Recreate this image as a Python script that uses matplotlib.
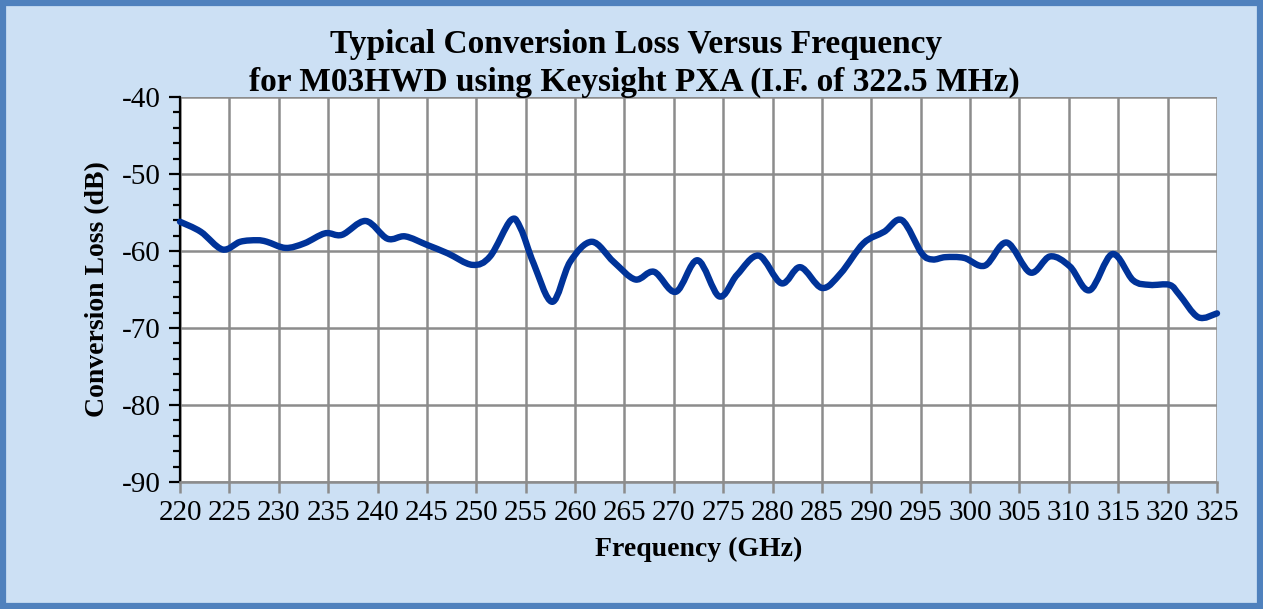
import matplotlib
matplotlib.use("Agg")
import matplotlib.pyplot as plt
from matplotlib.patches import Rectangle, PathPatch
from matplotlib.path import Path
from matplotlib.ticker import MultipleLocator

freq_ghz = [220.0, 222.1, 224.3, 226.1, 227.8, 228.8, 230.7, 232.6, 234.7, 236.4,
            238.8, 241.0, 242.8, 245.0, 247.1, 249.6, 251.4, 253.5, 254.5, 255.8,
            257.7, 259.5, 261.7, 263.9, 266.1, 268.0, 270.2, 272.4, 274.6, 276.4,
            278.6, 280.9, 282.8, 285.0, 286.9, 289.2, 291.3, 293.1, 295.1, 296.2,
            297.5, 299.4, 301.5, 303.7, 306.1, 308.1, 310.1, 312.1, 314.4, 316.5,
            318.2, 320.2, 321.2, 323.1, 325.0]
loss_db = [-56.2, -57.5, -59.8, -58.8, -58.6, -58.8, -59.6, -59.0, -57.7, -57.9,
           -56.1, -58.4, -58.1, -59.2, -60.3, -61.8, -60.7, -56.0, -57.1, -61.6,
           -66.6, -61.4, -58.8, -61.4, -63.7, -62.7, -65.3, -61.2, -65.9, -63.1,
           -60.6, -64.2, -62.1, -64.8, -62.9, -59.0, -57.5, -56.0, -60.3, -61.1,
           -60.8, -60.9, -61.9, -58.9, -62.8, -60.7, -62.0, -65.1, -60.4, -63.8,
           -64.4, -64.4, -65.7, -68.6, -68.1]

title_lines = ["Typical Conversion Loss Versus Frequency",
               "for M03HWD using Keysight PXA (I.F. of 322.5 MHz)"]
x_label = "Frequency (GHz)"
y_label = "Conversion Loss (dB)"

plt.rcParams["axes.unicode_minus"] = False
serif = ["Liberation Serif", "DejaVu Serif"]
bg = "#CCE0F4"
grid_c = "#8C8C8C"

fig = plt.figure(figsize=(12.63, 6.09), dpi=100, facecolor=bg)
fig.patches.append(Rectangle((0.0025, 0.005), 0.995, 0.99, transform=fig.transFigure,
                             fill=False, edgecolor="#4F81BD", linewidth=4.5, zorder=10))

ax = fig.add_axes([180/1263, 1-482/609, (1217-180)/1263, (482-97)/609])
ax.set_facecolor("white")

# smoothed line (Excel-style) through the data points, drawn as Bezier segments
verts = [(freq_ghz[0], loss_db[0])]
codes = [Path.MOVETO]
n = len(freq_ghz)
t = 1/6
for i in range(n - 1):
    x0, y0 = (freq_ghz[i-1], loss_db[i-1]) if i > 0 else (freq_ghz[i], loss_db[i])
    x1, y1 = freq_ghz[i], loss_db[i]
    x2, y2 = freq_ghz[i+1], loss_db[i+1]
    x3, y3 = (freq_ghz[i+2], loss_db[i+2]) if i + 2 < n else (x2, y2)
    verts += [(x1 + (x2 - x0)*t, y1 + (y2 - y0)*t),
              (x2 - (x3 - x1)*t, y2 - (y3 - y1)*t),
              (x2, y2)]
    codes += [Path.CURVE4, Path.CURVE4, Path.CURVE4]
ax.add_patch(PathPatch(Path(verts, codes), facecolor="none", edgecolor="#003399",
                       linewidth=4.6, joinstyle="round", capstyle="round", zorder=3,
                       clip_on=False))

ax.set_xlim(220, 325)
ax.set_ylim(-90, -40)
ax.xaxis.set_major_locator(MultipleLocator(5))
ax.yaxis.set_major_locator(MultipleLocator(10))
ax.yaxis.set_minor_locator(MultipleLocator(2))
ax.grid(True, which="major", color=grid_c, linewidth=1.8)
ax.set_axisbelow(True)

for s in ["top", "right"]:
    ax.spines[s].set_visible(False)
ax.spines["left"].set_color("black")
ax.spines["left"].set_linewidth(1.6)
ax.spines["bottom"].set_color(grid_c)
ax.spines["bottom"].set_linewidth(1.8)

ax.tick_params(axis="y", which="major", direction="out", length=8, width=1.6, color="black",
               labelsize=21, pad=6)
ax.tick_params(axis="y", which="minor", direction="out", length=5, width=1.6, color="black")
ax.tick_params(axis="x", which="major", direction="out", length=8, width=1.8, color=grid_c,
               labelsize=21, pad=5)
for lab in ax.get_xticklabels() + ax.get_yticklabels():
    lab.set_family(serif)

ax.set_xlabel(x_label, fontsize=20, fontweight="bold", family=serif, labelpad=8)
ax.set_ylabel(y_label, fontsize=20, fontweight="bold", family=serif, labelpad=8)

fig.text(636/1263, 1-45/609, title_lines[0], ha="center", va="center", fontsize=24,
         fontweight="bold", family=serif)
fig.text(634/1263, 1-82/609, title_lines[1], ha="center", va="center", fontsize=24,
         fontweight="bold", family=serif)

fig.savefig("out.png", dpi=100, facecolor=bg)
